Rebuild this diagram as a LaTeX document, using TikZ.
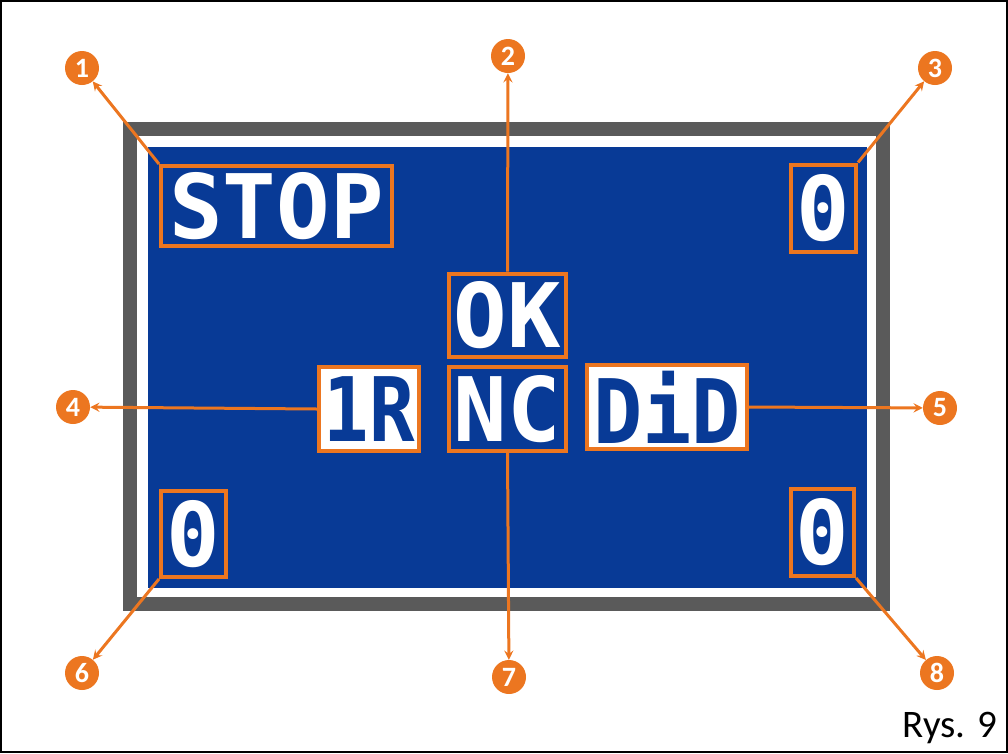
\documentclass[tikz,border=0pt]{standalone}
\usepackage{fontspec}
\setmainfont{Carlito}
\newfontfamily\dotfont{DejaVu Sans Mono}
\definecolor{lcdblue}{RGB}{8,58,150}
\definecolor{ornge}{RGB}{236,118,32}
\definecolor{framegrey}{RGB}{90,90,90}
\tikzset{
  lcd/.style={draw=ornge,line width=4pt,fill=lcdblue,text=white,inner sep=0pt,
    font=\dotfont\bfseries\fontsize{89}{89}\selectfont},
  lcdinv/.style={lcd,fill=white,text=lcdblue},
  num/.style={circle,fill=ornge,text=white,minimum size=34pt,inner sep=0pt,
    font=\bfseries\fontsize{28}{28}\selectfont},
  callout/.style={->,draw=ornge,line width=3pt,line join=round}
}
\begin{document}
\begin{tikzpicture}[>=stealth,x=1pt,y=-1pt]
	\useasboundingbox (0,0) rectangle (1008,753);
	\draw[line width=2pt] (1,1) rectangle (1007,752);
	\draw[framegrey,line width=14pt,fill=white] (130,129) rectangle (883,604);
	\fill[lcdblue] (148,147) rectangle (867,588);
	\node[lcd,minimum width=231pt,minimum height=80pt] (stop) at (276.5,206) {STOP};
	\node[lcd,minimum width=65pt,minimum height=87pt] (zt) at (823.5,208) {0};
	\node[lcd,minimum width=117pt,minimum height=83pt] (ok) at (507.5,315) {OK};
	\node[lcdinv,minimum width=100pt,minimum height=84pt] (ir) at (369,409) {\scalebox{0.85}[1]{1R}};
	\node[lcd,minimum width=117pt,minimum height=84pt] (nc) at (507.5,409) {NC};
	\node[lcdinv,minimum width=160pt,minimum height=84pt] (did) at (667,407) {\scalebox{0.92}[1]{DiD}};
	\node[lcd,minimum width=65pt,minimum height=86pt] (zl) at (193.5,534) {0};
	\node[lcd,minimum width=63pt,minimum height=87pt] (zr) at (822.5,532.5) {0};
	\node[num] (n1) at (82,68) {1};
	\node[num] (n2) at (508,56) {2};
	\node[num] (n3) at (935,68) {3};
	\node[num] (n4) at (73,407) {4};
	\node[num] (n5) at (940,408) {5};
	\node[num] (n6) at (82,673) {6};
	\node[num] (n7) at (509,677) {7};
	\node[num] (n8) at (937,673) {8};
	\draw[callout] (stop.north west) -- (n1);
	\draw[callout] (ok.north) -- (n2);
	\draw[callout] (zt.north east) -- (n3);
	\draw[callout] (ir.west) -- (n4);
	\draw[callout] (did.east) -- (n5);
	\draw[callout] (zl.south west) -- (n6);
	\draw[callout] (nc.south) -- (n7);
	\draw[callout] (zr.south east) -- (n8);
	\node[anchor=base west,font=\fontsize{39}{39}\selectfont] (rys) at (899,737) {Rys. 9};
\end{tikzpicture}
\end{document}
